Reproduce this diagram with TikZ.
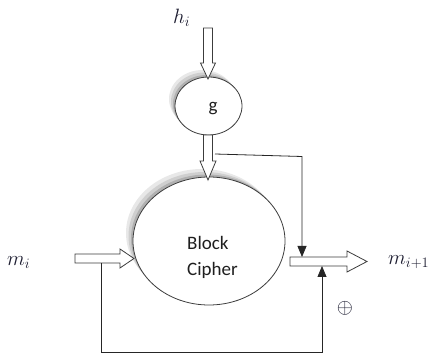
\documentclass[tikz,border=0pt]{standalone}
\usepackage{fontspec}
\newfontfamily\carlito{Carlito}
\usetikzlibrary{shapes.geometric,arrows.meta}
\definecolor{mathink}{RGB}{28,28,48}
\definecolor{outline}{RGB}{60,60,60}
\tikzset{
  oval/.style={ellipse, draw=outline, line width=0.8pt, fill=white, inner sep=0pt},
  shadowA/.style={ellipse, fill=gray!18, draw=none, inner sep=0pt},
  shadowB/.style={ellipse, fill=gray!38, draw=none, inner sep=0pt},
  shadowC/.style={ellipse, fill=gray!62, draw=none, inner sep=0pt},
  harrow/.style={draw=outline, line width=0.8pt, fill=white, line join=miter},
  conn/.style={draw=black!85, line width=0.8pt},
  tipped/.style={conn, -{Triangle[length=11pt,width=9pt]}},
  mlabel/.style={text=mathink, inner sep=0pt, font=\fontsize{21}{25}\selectfont},
  slabel/.style={text=black!88, inner sep=0pt, font=\carlito\fontsize{19}{23}\selectfont}
}
% vertical hollow arrow: x, ystart, ytip, shaft half, head half, head length
\newcommand{\hollowV}[6]{\draw[harrow] ({#1-#4},#2) -- ({#1-#4},{#3-#6}) -- ({#1-#5},{#3-#6}) -- (#1,#3) -- ({#1+#5},{#3-#6}) -- ({#1+#4},{#3-#6}) -- ({#1+#4},#2) -- cycle;}
% horizontal hollow arrow: y, xstart, xtip, shaft half, head half, head length
\newcommand{\hollowH}[6]{\draw[harrow] (#2,{#1-#4}) -- ({#3-#6},{#1-#4}) -- ({#3-#6},{#1-#5}) -- (#3,#1) -- ({#3-#6},{#1+#5}) -- ({#3-#6},{#1+#4}) -- (#2,{#1+#4}) -- cycle;}
\begin{document}
\begin{tikzpicture}[x=1pt,y=-1pt]
\useasboundingbox (0,0) rectangle (431,355);
% shadows
\node[shadowA, minimum width=67pt, minimum height=58pt] at (202.5,99) {};
\node[shadowB, minimum width=67pt, minimum height=58pt] at (204.5,101.5) {};
\node[shadowC, minimum width=67pt, minimum height=58pt] at (206.5,104) {};
\node[shadowA, minimum width=152pt, minimum height=128pt] at (202,233) {};
\node[shadowB, minimum width=152pt, minimum height=128pt] at (204.5,236) {};
\node[shadowC, minimum width=152pt, minimum height=128pt] at (207,238.5) {};
% ellipses
\node[oval, minimum width=67pt, minimum height=58pt] (g) at (208.5,106) {};
\node[oval, minimum width=152pt, minimum height=128pt] (bc) at (209,241) {};
% labels
\node[mlabel, anchor=base west] (h) at (173,23.5) {$h_i$};
\node[mlabel, anchor=base west] (mi) at (7,265.5) {$m_i$};
\node[mlabel, anchor=base west] (mo) at (388,264.5) {$m_{i+1}$};
\node[mlabel, anchor=center] (xor) at (345,308) {$\oplus$};
\node[slabel, anchor=base] (gl) at (213,112) {g};
\node[slabel, anchor=base west] (b1) at (187,250) {Block};
\node[slabel, anchor=base west] (b2) at (187,276) {Cipher};
% hollow arrows
\hollowV{208}{28}{79}{4.5}{7.5}{16}
\hollowV{208}{135}{180}{4.5}{8}{19}
\hollowH{258.5}{75}{134}{4.5}{9.5}{14}
\hollowH{261.5}{290}{367}{4.5}{10.5}{20}
% thin connectors
\coordinate (k1) at (215,154);
\coordinate (k2) at (302,156.5);
\coordinate (k3) at (302,257);
\draw[tipped] (k1) -- (k2) -- (k3);
\coordinate (f1) at (101,263);
\coordinate (f2) at (101,352);
\coordinate (f3) at (322,352);
\coordinate (f4) at (322,266);
\draw[tipped] (f1) -- (f2) -- (f3) -- (f4);
\end{tikzpicture}
\end{document}
